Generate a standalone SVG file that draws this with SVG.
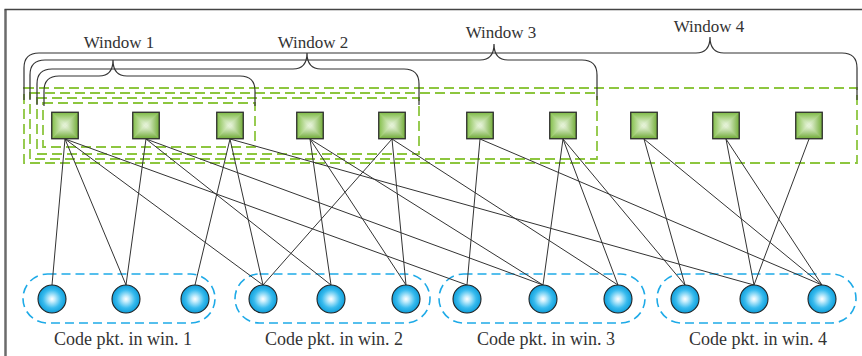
<svg xmlns="http://www.w3.org/2000/svg" xmlns:xlink="http://www.w3.org/1999/xlink" width="862" height="356" viewBox="0 0 862 356">
  <style>
    .lbl { font-family: "Liberation Serif", "Times New Roman", serif; fill: #333; text-anchor: middle; }
    .win { font-size: 17px; }
    .pkt { font-size: 18px; }
    .brace { fill: none; stroke: #333; stroke-width: 1.2; }
    .wbox { fill: none; stroke: #8dc63f; stroke-width: 1.8; stroke-dasharray: 10 5; }
    .pbox { fill: none; stroke: #1eaae7; stroke-width: 1.6; stroke-dasharray: 9 5; }
    .edge { stroke: #333; stroke-width: 1; fill: none; }
    .ball { fill: url(#ball); stroke: #222; stroke-width: 1.1; }
  </style>
  <defs>
    <linearGradient id="gT" gradientUnits="userSpaceOnUse" x1="0" y1="-13.25" x2="0" y2="0">
      <stop offset="0" stop-color="#7cb943"/><stop offset="1" stop-color="#f2f9ea"/>
    </linearGradient>
    <linearGradient id="gB" gradientUnits="userSpaceOnUse" x1="0" y1="13.25" x2="0" y2="0">
      <stop offset="0" stop-color="#6eaa35"/><stop offset="1" stop-color="#f2f9ea"/>
    </linearGradient>
    <linearGradient id="gL" gradientUnits="userSpaceOnUse" x1="-13.25" y1="0" x2="0" y2="0">
      <stop offset="0" stop-color="#82be48"/><stop offset="1" stop-color="#f2f9ea"/>
    </linearGradient>
    <linearGradient id="gR" gradientUnits="userSpaceOnUse" x1="13.25" y1="0" x2="0" y2="0">
      <stop offset="0" stop-color="#72ad38"/><stop offset="1" stop-color="#f2f9ea"/>
    </linearGradient>
    <radialGradient id="ball" cx="50%" cy="50%" r="50%">
      <stop offset="0" stop-color="#ffffff"/>
      <stop offset="0.2" stop-color="#c9eefc"/>
      <stop offset="0.65" stop-color="#38bbee"/>
      <stop offset="1" stop-color="#0f9dd9"/>
    </radialGradient>
    <!-- bevelled source packet square, centred on 0,0 -->
    <g id="sq">
      <rect x="-13.25" y="-13.25" width="26.5" height="26.5" fill="#a9d67e"/>
      <path d="M-13.25,-13.25 L13.25,-13.25 L0,0Z" fill="url(#gT)"/>
      <path d="M-13.25,13.25 L13.25,13.25 L0,0Z" fill="url(#gB)"/>
      <path d="M-13.25,-13.25 L-13.25,13.25 L0,0Z" fill="url(#gL)"/>
      <path d="M13.25,-13.25 L13.25,13.25 L0,0Z" fill="url(#gR)"/>
      <rect x="-13.25" y="-13.25" width="26.5" height="26.5" fill="none" stroke="#2d2d2d" stroke-width="1.3"/>
    </g>
  </defs>

  <!-- frame -->
  <path d="M5.5,356 V9.5" stroke="#6b6b6b" stroke-width="2.5" fill="none"/>
  <path d="M4.5,9.5 H862" stroke="#444" stroke-width="1.3" fill="none"/>

  <!-- sliding windows -->
  <g id="windows">
    <rect class="wbox" x="24" y="88" width="833" height="75"/>
    <rect class="wbox" x="30" y="93" width="567" height="66"/>
    <rect class="wbox" x="37" y="98" width="382" height="56"/>
    <rect class="wbox" x="43" y="103" width="212" height="44"/>
    <path class="brace" d="M24,100 V68 Q24,53 39,53 H696 C705,53 710,48 710,37 C710,48 715,53 724,53 H842 Q857,53 857,68 V100"/>
    <path class="brace" d="M30,100 V75 Q30,60 45,60 H480 C489,60 494,55 494,44 C494,55 499,60 508,60 H582 Q597,60 597,75 V100"/>
    <path class="brace" d="M37,105 V84 Q37,69 52,69 H293 C302,69 307,64 307,53 C307,64 312,69 321,69 H404 Q419,69 419,84 V105"/>
    <path class="brace" d="M44,106 V91 Q44,76 59,76 H99 C108,76 113,71 113,60 C113,71 118,76 127,76 H240 Q255,76 255,91 V106"/>
    <text class="lbl win" x="119" y="48">Window 1</text>
    <text class="lbl win" x="313" y="48">Window 2</text>
    <text class="lbl win" x="501" y="38">Window 3</text>
    <text class="lbl win" x="709" y="32">Window 4</text>
  </g>

  <!-- coded packet groups -->
  <g id="groups">
    <rect class="pbox" x="23" y="274" width="192" height="49" rx="24.5"/>
    <rect class="pbox" x="235" y="274" width="195" height="49" rx="24.5"/>
    <rect class="pbox" x="439" y="274" width="206" height="49" rx="24.5"/>
    <rect class="pbox" x="657" y="274" width="199" height="49" rx="24.5"/>
    <text class="lbl pkt" x="123" y="345">Code pkt. in win. 1</text>
    <text class="lbl pkt" x="334" y="345">Code pkt. in win. 2</text>
    <text class="lbl pkt" x="546" y="345">Code pkt. in win. 3</text>
    <text class="lbl pkt" x="758" y="345">Code pkt. in win. 4</text>
  </g>

  <!-- encoding connections: source square -> coded packet -->
  <g id="edges" class="edge">
    <line x1="65" y1="139" x2="52" y2="285"/>
    <line x1="65" y1="139" x2="126" y2="285"/>
    <line x1="65" y1="139" x2="263" y2="285"/>
    <line x1="65" y1="139" x2="467" y2="285"/>
    <line x1="146" y1="139" x2="126" y2="285"/>
    <line x1="146" y1="139" x2="331" y2="285"/>
    <line x1="146" y1="139" x2="543" y2="285"/>
    <line x1="230" y1="139" x2="195" y2="285"/>
    <line x1="230" y1="139" x2="263" y2="285"/>
    <line x1="230" y1="139" x2="754" y2="285"/>
    <line x1="310" y1="139" x2="331" y2="285"/>
    <line x1="310" y1="139" x2="406" y2="285"/>
    <line x1="310" y1="139" x2="543" y2="285"/>
    <line x1="392" y1="139" x2="263" y2="285"/>
    <line x1="392" y1="139" x2="406" y2="285"/>
    <line x1="392" y1="139" x2="618" y2="285"/>
    <line x1="480" y1="139" x2="467" y2="285"/>
    <line x1="480" y1="139" x2="822" y2="285"/>
    <line x1="563" y1="139" x2="543" y2="285"/>
    <line x1="563" y1="139" x2="618" y2="285"/>
    <line x1="563" y1="139" x2="685" y2="285"/>
    <line x1="644" y1="139" x2="685" y2="285"/>
    <line x1="644" y1="139" x2="822" y2="285"/>
    <line x1="726" y1="139" x2="754" y2="285"/>
    <line x1="726" y1="139" x2="822" y2="285"/>
    <line x1="809" y1="139" x2="754" y2="285"/>
  </g>

  <!-- source packets -->
  <g id="src1"><use xlink:href="#sq" x="65" y="125.5"/></g>
  <g id="src2"><use xlink:href="#sq" x="146" y="125.5"/></g>
  <g id="src3"><use xlink:href="#sq" x="230" y="125.5"/></g>
  <g id="src4"><use xlink:href="#sq" x="310" y="125.5"/></g>
  <g id="src5"><use xlink:href="#sq" x="392" y="125.5"/></g>
  <g id="src6"><use xlink:href="#sq" x="480" y="125.5"/></g>
  <g id="src7"><use xlink:href="#sq" x="563" y="125.5"/></g>
  <g id="src8"><use xlink:href="#sq" x="644" y="125.5"/></g>
  <g id="src9"><use xlink:href="#sq" x="726" y="125.5"/></g>
  <g id="src10"><use xlink:href="#sq" x="809" y="125.5"/></g>

  <!-- coded packets -->
  <g id="cod1"><circle class="ball" cx="52" cy="299" r="14"/></g>
  <g id="cod2"><circle class="ball" cx="126" cy="299" r="14"/></g>
  <g id="cod3"><circle class="ball" cx="195" cy="299" r="14"/></g>
  <g id="cod4"><circle class="ball" cx="263" cy="299" r="14"/></g>
  <g id="cod5"><circle class="ball" cx="331" cy="299" r="14"/></g>
  <g id="cod6"><circle class="ball" cx="406" cy="299" r="14"/></g>
  <g id="cod7"><circle class="ball" cx="467" cy="299" r="14"/></g>
  <g id="cod8"><circle class="ball" cx="543" cy="299" r="14"/></g>
  <g id="cod9"><circle class="ball" cx="618" cy="299" r="14"/></g>
  <g id="cod10"><circle class="ball" cx="685" cy="299" r="14"/></g>
  <g id="cod11"><circle class="ball" cx="754" cy="299" r="14"/></g>
  <g id="cod12"><circle class="ball" cx="822" cy="299" r="14"/></g>
</svg>
